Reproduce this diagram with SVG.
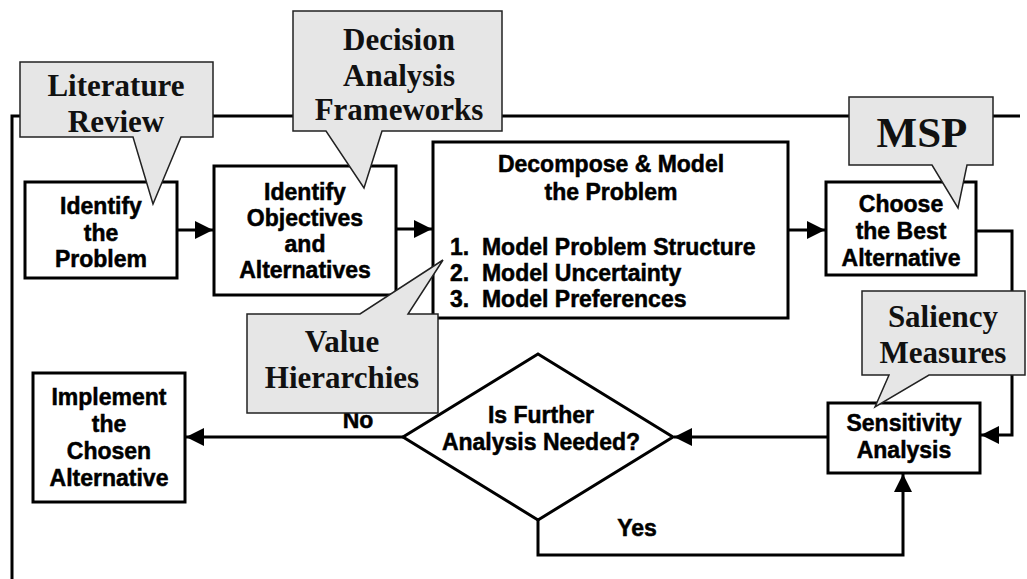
<svg xmlns="http://www.w3.org/2000/svg" width="1027" height="579" viewBox="0 0 1027 579">
  <style>
    .box { fill: #ffffff; stroke: #000000; stroke-width: 3; }
    .wire { fill: none; stroke: #000000; stroke-width: 3; }
    .callout { fill: #e6e6e6; stroke: #222222; stroke-width: 1.5; stroke-linejoin: miter; }
    .lbl { font-family: "Liberation Sans", Arial, sans-serif; font-weight: bold; font-size: 23px; fill: #000000; stroke: #000000; stroke-width: 0.5; text-anchor: middle; }
    .list { font-family: "Liberation Sans", Arial, sans-serif; font-weight: bold; font-size: 23px; fill: #000000; stroke: #000000; stroke-width: 0.5; white-space: pre; }
    .note { font-family: "Liberation Serif", "Times New Roman", serif; font-weight: bold; font-size: 31px; fill: #111111; text-anchor: middle; }
  </style>
  <defs>
    <marker id="arrow" viewBox="0 0 18 18" refX="18" refY="9" markerWidth="18" markerHeight="18" markerUnits="userSpaceOnUse" orient="auto">
      <path d="M0,0 L18,9 L0,18 Z" fill="#000000"/>
    </marker>
  </defs>
  <rect width="1027" height="579" fill="#ffffff"/>

  <!-- connectors -->
  <g id="connectors">
    <!-- feedback frame line -->
    <polyline class="wire" points="12,579 12,116 1020,116"/>
    <line class="wire" x1="177" y1="230" x2="213" y2="230" marker-end="url(#arrow)"/>
    <line class="wire" x1="396" y1="229" x2="432" y2="229" marker-end="url(#arrow)"/>
    <line class="wire" x1="788" y1="230" x2="825" y2="230" marker-end="url(#arrow)"/>
    <polyline class="wire" points="976,231 1012,231 1012,435 981,435" marker-end="url(#arrow)"/>
    <line class="wire" x1="828" y1="437" x2="674" y2="437" marker-end="url(#arrow)"/>
    <line class="wire" x1="403" y1="437" x2="186" y2="437" marker-end="url(#arrow)"/>
    <polyline class="wire" points="538,520 538,555 903,555 903,474" marker-end="url(#arrow)"/>
    <text class="lbl" x="358" y="428">No</text>
    <text class="lbl" x="637" y="536">Yes</text>
  </g>

  <!-- process nodes -->
  <g id="identify-problem">
    <rect class="box" x="25" y="182" width="152" height="96"/>
    <text class="lbl" x="101" y="214">Identify</text>
    <text class="lbl" x="101" y="241">the</text>
    <text class="lbl" x="101" y="267">Problem</text>
  </g>

  <g id="identify-objectives">
    <rect class="box" x="214" y="166" width="182" height="129"/>
    <text class="lbl" x="305" y="200">Identify</text>
    <text class="lbl" x="305" y="226">Objectives</text>
    <text class="lbl" x="305" y="252">and</text>
    <text class="lbl" x="305" y="278">Alternatives</text>
  </g>

  <g id="decompose-model">
    <rect class="box" x="433" y="142" width="355" height="176"/>
    <text class="lbl" x="611" y="172">Decompose &amp; Model</text>
    <text class="lbl" x="611" y="200">the Problem</text>
    <text class="list" x="450" y="255" xml:space="preserve">1.  Model Problem Structure</text>
    <text class="list" x="450" y="281" xml:space="preserve">2.  Model Uncertainty</text>
    <text class="list" x="450" y="307" xml:space="preserve">3.  Model Preferences</text>
  </g>

  <g id="choose-best">
    <rect class="box" x="826" y="182" width="150" height="93"/>
    <text class="lbl" x="901" y="212">Choose</text>
    <text class="lbl" x="901" y="239">the Best</text>
    <text class="lbl" x="901" y="266">Alternative</text>
  </g>

  <g id="sensitivity-analysis">
    <rect class="box" x="828" y="403" width="152" height="70"/>
    <text class="lbl" x="904" y="431">Sensitivity</text>
    <text class="lbl" x="904" y="458">Analysis</text>
  </g>

  <g id="further-analysis">
    <polygon class="box" points="538,354 673,437 538,520 403,437"/>
    <text class="lbl" x="541" y="423">Is Further</text>
    <text class="lbl" x="541" y="450">Analysis Needed?</text>
  </g>

  <g id="implement">
    <rect class="box" x="33" y="373" width="152" height="129"/>
    <text class="lbl" x="109" y="405">Implement</text>
    <text class="lbl" x="109" y="432">the</text>
    <text class="lbl" x="109" y="459">Chosen</text>
    <text class="lbl" x="109" y="486">Alternative</text>
  </g>

  <!-- annotation callouts -->
  <g id="note-literature">
    <path class="callout" d="M20,62 H213 V137 H181 L153,204 L133,137 H20 Z"/>
    <text class="note" x="116" y="96">Literature</text>
    <text class="note" x="116" y="132">Review</text>
  </g>

  <g id="note-frameworks">
    <path class="callout" d="M293,11 H502 V131 H382 L364,188 L326,131 H293 Z"/>
    <text class="note" x="399" y="50">Decision</text>
    <text class="note" x="399" y="86">Analysis</text>
    <text class="note" x="399" y="120">Frameworks</text>
  </g>

  <g id="note-msp">
    <path class="callout" d="M849,97 H993 V165 H967 L958,208 L932,165 H849 Z"/>
    <text class="note" x="922" y="147" style="font-size:43px">MSP</text>
  </g>

  <g id="note-value">
    <path class="callout" d="M247,314 H360 L443,260 L408,314 H438 V413 H247 Z"/>
    <text class="note" x="342" y="352">Value</text>
    <text class="note" x="342" y="388">Hierarchies</text>
  </g>

  <g id="note-saliency">
    <path class="callout" d="M862,291 H1025 V375 H929 L875,407 L889,375 H862 Z"/>
    <text class="note" x="943" y="327">Saliency</text>
    <text class="note" x="943" y="363">Measures</text>
  </g>
</svg>
